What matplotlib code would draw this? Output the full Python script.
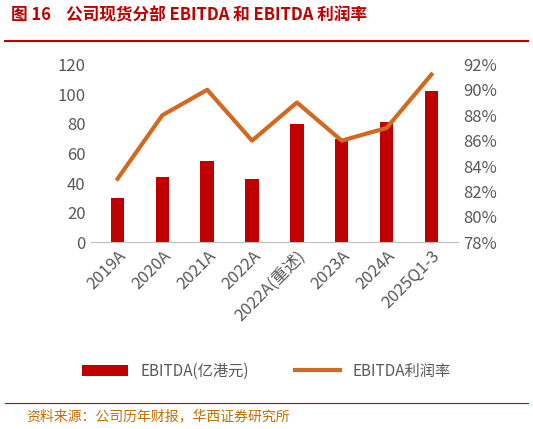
import matplotlib.pyplot as plt
from matplotlib.ticker import FuncFormatter

plt.rcParams['font.family'] = ['Noto Sans CJK SC', 'DejaVu Sans']

categories = ["2019A", "2020A", "2021A", "2022A", "2022A(重述)", "2023A", "2024A", "2025Q1-3"]
ebitda = [30, 44, 55, 43, 80, 70, 81, 102]
margin = [83.0, 88.0, 90.0, 86.0, 89.0, 86.0, 87.0, 91.2]

BAR_RED = "#C00000"
LINE_ORANGE = "#D2691E"
GREY = "#595959"

fig = plt.figure(figsize=(5.33, 4.29), dpi=100)
fig.text(0.02, 0.965, "图 16    公司现货分部 EBITDA 和 EBITDA 利润率", color=BAR_RED,
         fontsize=12, fontweight="bold", va="center")
fig.add_artist(plt.Line2D([0.01, 0.99], [0.905, 0.905], color=BAR_RED, lw=1.5))
fig.add_artist(plt.Line2D([0.01, 0.99], [0.06, 0.06], color=BAR_RED, lw=0.8))
fig.text(0.05, 0.03, "资料来源：公司历年财报，华西证券研究所", color="#C07000", fontsize=10, va="center")

ax = fig.add_axes([0.17, 0.435, 0.69, 0.415])
x = range(len(categories))
ax.bar(x, ebitda, width=0.3, color=BAR_RED, label="EBITDA(亿港元)")
ax.set_ylim(0, 120)
ax.set_yticks(range(0, 121, 20))
ax.set_xticks(list(x))
ax.set_xticklabels(categories, rotation=45, ha="right", rotation_mode="anchor")
ax.set_xlim(-0.6, len(categories) - 0.4)

ax2 = ax.twinx()
ax2.plot(x, margin, color=LINE_ORANGE, lw=3, label="EBITDA利润率")
ax2.set_ylim(78, 92)
ax2.set_yticks(range(78, 93, 2))
ax2.yaxis.set_major_formatter(FuncFormatter(lambda v, p: f"{v:.0f}%"))

for a in (ax, ax2):
    for s in a.spines.values():
        s.set_visible(False)
    a.tick_params(length=0, labelsize=12, colors=GREY)
ax.spines["bottom"].set_visible(True)
ax.spines["bottom"].set_color("#BFBFBF")

h1, l1 = ax.get_legend_handles_labels()
h2, l2 = ax2.get_legend_handles_labels()
fig.legend(h1 + h2, l1 + l2, loc="center", bbox_to_anchor=(0.5, 0.135), ncol=2,
           frameon=False, fontsize=11, labelcolor=GREY, handlelength=3, columnspacing=3)

fig.savefig("out.png", dpi=100)
